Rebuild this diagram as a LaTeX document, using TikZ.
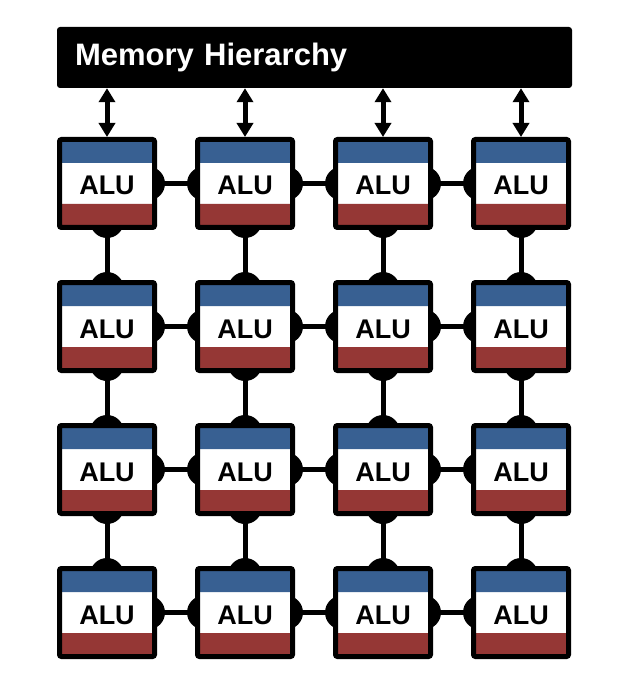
\documentclass[tikz,border=0pt]{standalone}
\usepackage{xcolor}
\usepackage{fontspec}
\setmainfont{Liberation Sans}
\usepackage{tikz}
\usetikzlibrary{arrows.meta, positioning, calc, backgrounds}
\definecolor{alublue}{RGB}{56, 96, 146}
\definecolor{alured}{RGB}{149, 55, 53}

\tikzset{
  membox/.style={fill=black, text=white, rounded corners=3pt, minimum width=515pt, minimum height=61pt,
    text width=479pt, inner xsep=18pt, align=left, font=\fontsize{31}{34}\selectfont\bfseries},
  alubox/.style={draw, line width=5pt, rounded corners=2pt, fill=white, minimum width=95pt, minimum height=88pt,
    inner sep=0pt, text height=23pt, text depth=0pt, font=\fontsize{27}{30}\selectfont\bfseries,
    path picture={
      \fill[alublue] (path picture bounding box.north west) rectangle ([yshift=-23.5pt]path picture bounding box.north east);
      \fill[alured] ([yshift=23.5pt]path picture bounding box.south west) rectangle (path picture bounding box.south east);
    }},
  link/.style={line width=5pt},
  blob/.style={fill=black},
  memarrow/.style={line width=5pt, {Triangle[width=16pt,length=14pt]}-{Triangle[width=16pt,length=14pt]}}
}

\begin{document}
\begin{tikzpicture}[x=1pt, y=-1pt]
    \useasboundingbox (0,0) rectangle (627,684);

    % Memory hierarchy
    \node[membox] (mem) at (314.5,57.5) {Memory Hierarchy};

    % ALU grid
    \foreach \r/\y in {1/183.5, 2/326.5, 3/469.5, 4/612.5} {
        \foreach \c/\x in {1/107, 2/245, 3/383, 4/521} {
            \node[alubox] (alu-\r-\c) at (\x,\y) {ALU};
        }
    }

    % Links between neighbours
    \begin{pgfonlayer}{background}
        \foreach \r in {1,...,4} {
            \foreach \c/\n in {1/2, 2/3, 3/4} {
                \draw[link] (alu-\r-\c.east) -- (alu-\r-\n.west);
                \fill[blob] ([xshift=-9pt]alu-\r-\c.east) circle (17pt);
                \fill[blob] ([xshift=9pt]alu-\r-\n.west) circle (17pt);
            }
        }
        \foreach \r/\n in {1/2, 2/3, 3/4} {
            \foreach \c in {1,...,4} {
                \draw[link] (alu-\r-\c.south) -- (alu-\n-\c.north);
                \fill[blob] ([yshift=9pt]alu-\r-\c.south) circle (17pt);
                \fill[blob] ([yshift=-9pt]alu-\n-\c.north) circle (17pt);
            }
        }
    \end{pgfonlayer}

    % Memory ports
    \foreach \c in {1,...,4} {
        \draw[memarrow] (mem.south -| alu-1-\c.north) -- (alu-1-\c.north);
    }
\end{tikzpicture}
\end{document}
